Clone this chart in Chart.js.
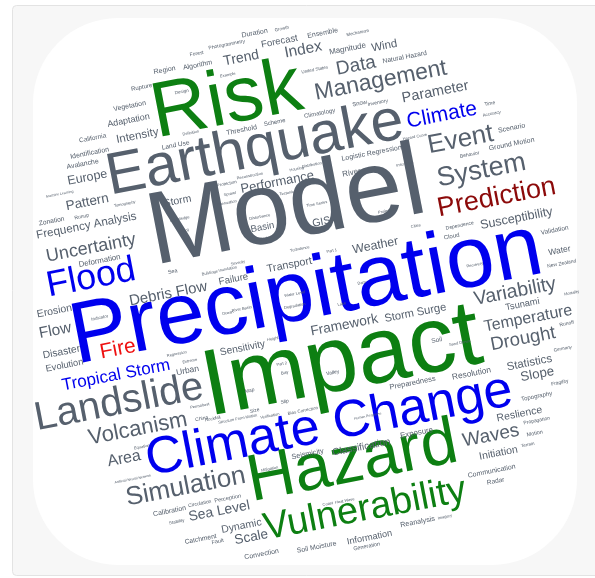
<!DOCTYPE html>
<html>
<head>
<meta charset="utf-8">
<script src="https://cdn.jsdelivr.net/npm/chart.js@4.4.1/dist/chart.umd.min.js"></script>
<style>
  html, body { margin: 0; padding: 0; background: #fff; }
  #cloud { display: block; }
</style>
</head>
<body>
<canvas id="cloud" width="595" height="578"></canvas>
<script>
// Word cloud data: terms and their weights (font size in px)
const words = [
  'Model', 'Impact', 'Precipitation', 'Risk', 'Hazard', 'Earthquake', 'Climate Change', 'Landslide', 'Vulnerability', 'Flood',
  'System', 'Prediction', 'Event', 'Simulation', 'Management', 'Volcanism', 'Climate', 'Fire', 'Variability', 'Data',
  'Waves', 'Drought', 'Uncertainty', 'Tropical Storm', 'Area', 'Temperature', 'Index', 'Flow', 'Debris Flow', 'Parameter',
  'Trend', 'Sea Level', 'Framework', 'Scale', 'Pattern', 'Slope', 'Performance', 'Susceptibility', 'Europe', 'Weather',
  'Frequency Analysis', 'Intensity', 'Wind', 'Statistics', 'Storm Surge', 'Transport', 'GIS', 'Storm', 'Erosion', 'Dynamic',
  'Reslience', 'Initiation', 'Disaster', 'Sensitivity', 'Classification', 'Failure', 'Forecast', 'Basin', 'Tsunami', 'Evolution',
  'Information', 'Adaptation', 'Urban', 'Water', 'Resolution', 'Magnitude', 'River', 'Exposure', 'Deformation', 'Preparedness',
  'Seismicity', 'Reanalysis', 'Algorithm', 'Region', 'Vegetation', 'Identification', 'Avalanche', 'Duration', 'Ensemble', 'Threshold',
  'Logistic Regression', 'Scenario', 'Ground Motion', 'Communication', 'Calibration', 'Convection', 'Soil Moisture', 'Natural Hazard', 'Zonation', 'Catchment',
  'Land Use', 'California', 'Validation', 'Radar', 'Soil', 'Rupture', 'Snow', 'Climatology', 'Scheme', 'Cloud',
  'Topography', 'Perception', 'Sea', 'Motion', 'Fault', 'Generation', 'Photogrammetry', 'Inventory', 'Time', 'Behavior',
  'Dependence', 'New Zealand', 'Runoff', 'Fragility', 'Propagation', 'Circulation', 'Runup', 'Forest', 'China', 'Map',
  'Slip', 'Size', 'Valley', 'Design', 'Growth', 'Mechanism', 'United States', 'Protection', 'Accuracy', 'Germany',
  'Terrain', 'Stability', 'Tool', 'Indicator', 'Bias Correction', 'Rockfall', 'Bay', 'Definition', 'Example', 'Reconstruction',
  'Housing', 'Distribution', 'Cities', 'Recovery', 'Mortality', 'Sand Dunes', 'Imagery', 'Knowledge', 'Regression', 'Extreme',
  'Equation', 'Mitigation', 'Coast', 'Heat Wave', 'Permafrost', 'Structure From Motion', 'Verification', 'Height', 'Sprawl', 'Attenuation',
  'Tectonics', 'Disturbance', 'Strategies', 'Time Series', 'Projection', 'Turbulence', 'Part 1', 'Buildings', 'Inundation', 'Severity',
  'Ocean', 'River Basin', 'Degradation', 'Water Level', 'Dam', 'Lake', 'Hazard Curve', 'Insurance', 'Machine Learning', 'Tomography',
  'Human Response', 'Artificial Neural Network', 'Part 2'
];

const weights = [
  103, 94, 87, 78, 66, 59, 52, 40, 38, 36,
  27, 27, 26, 26, 23, 22, 21, 21, 19.5, 19,
  19, 18.5, 18, 17, 16, 16, 15.5, 15.5, 15, 14.5,
  14, 14, 13.7, 13.6, 13.5, 13.3, 13, 12.6, 12.5, 12.4,
  11.7, 11.5, 11.5, 11.5, 11.2, 10.8, 10.7, 10.5, 10.5, 10.5,
  10.5, 10.5, 10.3, 10.2, 10, 9.8, 9.5, 9.5, 9.3, 9.3,
  9.2, 9, 8.5, 8.5, 8.4, 8, 8, 7.9, 7.8, 7.5,
  7.3, 7.2, 7, 7, 7, 7, 7, 7, 7, 7,
  7, 7, 7, 7, 7, 7, 7, 6.7, 6.7, 6.7,
  6.6, 6.5, 6.5, 6.5, 6.5, 6, 6, 6, 6, 6,
  6, 5.7, 5.5, 5.5, 5.5, 5.5, 5, 5, 5, 5,
  5, 5, 5, 5, 5, 5, 5, 5, 5, 5,
  5, 5, 5, 4.5, 4.5, 4.5, 4.5, 4.5, 4.5, 4.5,
  4.5, 4.5, 4.5, 4.5, 4.5, 4.5, 4.5, 4, 4, 4,
  4, 4, 4, 4, 4, 4, 4, 4, 4, 4,
  4, 4, 4, 4, 4, 4, 4, 4, 4, 4,
  4, 4, 4, 4, 4, 4, 4, 4, 4, 4,
  4, 4, 4, 4, 4, 4, 4, 4, 3.5, 4,
  3.5, 3.5, 4
];

// Colour groups (everything else is grey)
const greenWords = ['Risk', 'Impact', 'Hazard', 'Vulnerability'];
const blueWords = ['Precipitation', 'Climate Change', 'Flood', 'Climate', 'Tropical Storm'];
const darkRedWords = ['Prediction'];
const redWords = ['Fire'];

// Layout of the cloud: baseline centre of every word, in chart units
const placement = {
  'Model': [292, 238], 'Impact': [347, 389], 'Precipitation': [311, 318], 'Risk': [231, 123],
  'Hazard': [356, 481], 'Earthquake': [258, 166], 'Climate Change': [332, 440], 'Landslide': [121, 414],
  'Vulnerability': [367, 520], 'Flood': [93, 288], 'System': [483, 178], 'Prediction': [498, 205],
  'Event': [462, 147], 'Simulation': [187, 494], 'Management': [382, 87], 'Volcanism': [139, 435],
  'Climate': [443, 121], 'Fire': [119, 355], 'Variability': [516, 297], 'Data': [357, 71],
  'Waves': [492, 441], 'Drought': [524, 344], 'Uncertainty': [92, 253], 'Tropical Storm': [117, 380],
  'Area': [125, 463], 'Temperature': [529, 323], 'Index': [304, 54], 'Flow': [56, 335],
  'Debris Flow': [169, 298], 'Parameter': [436, 96], 'Trend': [242, 62], 'Sea Level': [220, 515],
  'Framework': [345, 329], 'Scale': [252, 541], 'Pattern': [88, 206], 'Slope': [538, 378],
  'Performance': [278, 186], 'Susceptibility': [517, 222], 'Europe': [88, 181], 'Weather': [376, 249],
  'Frequency Analysis': [87, 229], 'Intensity': [138, 139], 'Wind': [385, 49], 'Statistics': [530, 366],
  'Storm Surge': [416, 316], 'Transport': [290, 268], 'GIS': [322, 225], 'Storm': [178, 204],
  'Erosion': [55, 314], 'Dynamic': [242, 529], 'Reslience': [520, 417], 'Initiation': [499, 456],
  'Disaster': [62, 355], 'Sensitivity': [243, 351], 'Classification': [362, 450], 'Failure': [234, 282],
  'Forecast': [280, 44], 'Basin': [263, 230], 'Tsunami': [523, 307], 'Evolution': [65, 368],
  'Information': [370, 540], 'Adaptation': [129, 123], 'Urban': [188, 373], 'Water': [560, 253],
  'Resolution': [472, 376], 'Magnitude': [348, 51], 'River': [352, 175], 'Exposure': [417, 435],
  'Deformation': [100, 263], 'Preparedness': [413, 385], 'Seismicity': [308, 456], 'Reanalysis': [418, 524],
  'Algorithm': [198, 67], 'Region': [165, 72], 'Vegetation': [130, 108], 'Identification': [90, 155],
  'Avalanche': [83, 166], 'Duration': [255, 35], 'Ensemble': [323, 35], 'Threshold': [242, 132],
  'Logistic Regression': [372, 155], 'Scenario': [512, 130], 'Ground Motion': [512, 146], 'Communication': [492, 473],
  'Calibration': [170, 513], 'Convection': [262, 556], 'Soil Moisture': [317, 549], 'Natural Hazard': [405, 59],
  'Zonation': [52, 223], 'Catchment': [201, 541], 'Land Use': [176, 147], 'California': [93, 140],
  'Validation': [555, 232], 'Radar': [496, 483], 'Soil': [437, 342], 'Rupture': [142, 89],
  'Snow': [360, 105], 'Climatology': [320, 115], 'Scheme': [275, 124], 'Cloud': [452, 238],
  'Topography': [537, 398], 'Perception': [228, 500], 'Sea': [173, 273], 'Motion': [535, 435],
  'Fault': [218, 543], 'Generation': [367, 548], 'Photogrammetry': [227, 46], 'Inventory': [378, 104],
  'Time': [490, 105], 'Behavior': [470, 156], 'Dependence': [460, 227], 'New Zealand': [562, 265],
  'Runoff': [567, 325], 'Fragility': [560, 384], 'Propagation': [537, 422], 'Circulation': [200, 505],
  'Runup': [82, 218], 'Forest': [197, 55], 'China': [202, 420], 'Map': [250, 392],
  'Slip': [285, 403], 'Size': [255, 412], 'Valley': [333, 374], 'Design': [182, 93],
  'Growth': [282, 30], 'Mechanism': [358, 34], 'United States': [315, 71], 'Protection': [227, 185],
  'Accuracy': [492, 115], 'Germany': [563, 350], 'Terrain': [528, 446], 'Stability': [177, 523],
  'Tool': [185, 232], 'Indicator': [100, 319], 'Bias Correction': [303, 412], 'Rockfall': [213, 420],
  'Bay': [285, 374], 'Definition': [191, 134], 'Example': [228, 76], 'Reconstruction': [250, 177],
  'Housing': [297, 170], 'Distribution': [312, 166], 'Cities': [416, 227], 'Recovery': [475, 266],
  'Mortality': [572, 294], 'Sand Dunes': [460, 344], 'Imagery': [445, 518], 'Knowledge': [180, 220],
  'Regression': [177, 355], 'Extreme': [190, 362], 'Equation': [142, 448], 'Mitigation': [270, 470],
  'Coast': [328, 505], 'Heat Wave': [345, 502], 'Permafrost': [200, 407], 'Structure From Motion': [238, 420],
  'Verification': [270, 417], 'Height': [273, 340], 'Sprawl': [230, 195], 'Attenuation': [227, 204],
  'Tectonics': [288, 194], 'Disturbance': [260, 218], 'Strategies': [263, 240], 'Time Series': [317, 205],
  'Projection': [387, 212], 'Turbulence': [300, 250], 'Part 1': [332, 252], 'Buildings': [210, 274],
  'Inundation': [228, 270], 'Severity': [238, 264], 'Ocean': [228, 314], 'River Basin': [242, 310],
  'Degradation': [295, 307], 'Water Level': [295, 295], 'Dam': [362, 284], 'Lake': [342, 305],
  'Hazard Curve': [415, 138], 'Insurance': [405, 165], 'Machine Learning': [60, 195], 'Tomography': [125, 205],
  'Human Response': [368, 417], 'Artificial Neural Network': [133, 480], 'Part 2': [282, 365]
};

const tilt = -11 * Math.PI / 180;

function colorFor(word) {
  if (greenWords.includes(word)) return '#0d7f12';
  if (blueWords.includes(word)) return '#0000ee';
  if (darkRedWords.includes(word)) return '#8c0a0a';
  if (redWords.includes(word)) return '#ee1111';
  return '#56606d';
}

// Card + rounded white panel behind the cloud
const cloudBackground = {
  id: 'cloudBackground',
  beforeDraw(chart) {
    const ctx = chart.ctx;
    ctx.save();
    ctx.fillStyle = '#ffffff';
    ctx.fillRect(0, 0, chart.width, chart.height);
    ctx.fillStyle = '#f7f7f7';
    ctx.strokeStyle = '#e3e3e3';
    ctx.beginPath();
    ctx.roundRect(12.5, 5.5, 600, 570, 4);
    ctx.fill();
    ctx.stroke();
    ctx.fillStyle = '#ffffff';
    ctx.beginPath();
    ctx.roundRect(33, 18, 544, 547, 85);
    ctx.fill();
    ctx.restore();
  }
};

// Draw each word at its point position
const wordLabels = {
  id: 'wordLabels',
  afterDatasetsDraw(chart) {
    const ctx = chart.ctx;
    const meta = chart.getDatasetMeta(0);
    meta.data.forEach((pt, i) => {
      ctx.save();
      ctx.translate(pt.x, pt.y);
      ctx.rotate(tilt);
      ctx.font = weights[i] + 'px "Liberation Sans", Arial, sans-serif';
      ctx.fillStyle = colorFor(words[i]);
      ctx.textAlign = 'center';
      ctx.textBaseline = 'alphabetic';
      ctx.fillText(words[i], 0, 0);
      ctx.restore();
    });
  }
};

const cloudChart = new Chart(document.getElementById('cloud'), {
  type: 'scatter',
  data: {
    datasets: [{
      label: 'Terms',
      data: words.map(w => ({ x: placement[w][0], y: placement[w][1] })),
      pointRadius: 0,
      pointHoverRadius: 0
    }]
  },
  options: {
    responsive: false,
    animation: false,
    devicePixelRatio: 1,
    layout: { padding: 0 },
    plugins: {
      legend: { display: false },
      tooltip: { enabled: false }
    },
    scales: {
      x: { type: 'linear', min: 0, max: 595, display: false },
      y: { type: 'linear', min: 0, max: 578, reverse: true, display: false }
    }
  },
  plugins: [cloudBackground, wordLabels]
});
</script>
</body>
</html>
